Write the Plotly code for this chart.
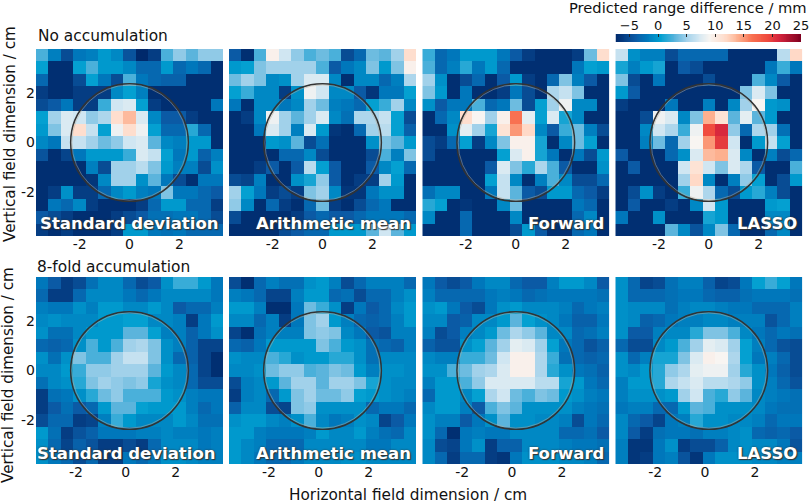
import plotly.graph_objects as go

# cell centres in cm, rows listed top to bottom
x_cm = [-3.5, -3, -2.5, -2, -1.5, -1, -0.5, 0, 0.5, 1, 1.5, 2, 2.5, 3, 3.5]
y_cm = [3.5, 3, 2.5, 2, 1.5, 1, 0.5, 0, -0.5, -1, -1.5, -2, -2.5, -3, -3.5]

methods = ["Standard deviation", "Arithmetic mean", "Forward", "LASSO"]
row_titles = ["No accumulation", "8-fold accumulation"]
tick_vals = [-2, 0, 2]
tick_text = ["-2", "0", "2"]
cbar_ticks = [-5, 0, 5, 10, 15, 20, 25]
field_radius = 2.36

std_single = [
    [2.5, -1.5, -5, -2, -1.5, 0, -1, -4.5, -7.4, -6, 2.5, 4.5, 3, 4.5, 4.5],
    [0.5, -7, -7, 0.5, 2.5, 0, 0, -1, -3, -3, 0, -3, -2, -3, -7],
    [-3, -7, -7, -5, 0.5, -2, -5, 2.5, -2, -3, -3.5, -3.5, -7, -7, -7],
    [-6, -7, -7, -6, -6, -6, -1, 0.5, -1.5, -7, -7, -7, -7, -7, -7],
    [-5, -4, -2, -6, -6, 2, 7, 7.5, 0.5, -6, -7, -7, -7, -7, -2],
    [0.5, 5, 7.5, 7, 4.5, 5.5, 11.5, 13.5, 7.5, -1, -4, -4, -6, -7, -7],
    [0, 4, 7.5, 11.5, 6.5, 0.5, 8.5, 11.5, 8.5, 0.5, -3, -3, 1.5, -3, -7],
    [-1, -2, 6.5, 6.5, 5, 3.5, 4.5, 7, 7.5, 3, -1, -1.5, 0, 0, -7],
    [-4.5, -7, -5.5, -2, 0, 0, 0, 2, 7.5, 6.5, 0.5, -2, 0, -3.5, -1.5],
    [-7, -7, -7, -7, -1.5, -5, 5, 5, 6, 4, 0, -1.5, -1.5, -5, -0.5],
    [-7, -7, -7, -7, -6.5, -1, 5, 5, -0.5, 3, -2, -5, -7, -2, -2],
    [-7, -6, -0.5, -6, -6, -3, -1, 0, -1.5, -2, 4, -2, -2, -3, -4],
    [-7, -2, -3, -1, -6, -7, -7, -7, -6, -3, 0, 0, -3, -3, -6],
    [-4, -5, -6, -7, -7, -7, -6, -5, -4, -2.5, -2.5, -2, -2, -3, -5],
    [-6, -7, -6, -7, -7, -7, -6, 0, 0, -2, -2.5, -2, -3, -3, -3],
]
mean_single = [
    [-4, -7, 2.5, 9.5, 7, 4.5, 2.5, 3.5, 2.5, -5, -3, 3.5, 3, 5, 11.5],
    [0, 0.5, 4, 5, 5, 5, 5, 2.5, -4, -2, -1, 4, 0, 4, 9.5],
    [3.5, 5, 4, -1, -0.5, 5, 7.5, 7.5, -1, -7, -1, -1, -3, -1.5, 5.5],
    [0.5, 2, -1, -1, -6, -0.5, 8.5, 7, -1, -1, -4, -6.5, -2, -2, 0.5],
    [-2, -7, -1, -1, -2, -1, 5, 3.5, -1.5, -2, -3, 0.5, 2, 5, -1],
    [-7, -6, -1, 8.5, 5, 3, 5, 7.5, -1, -2.5, 5.5, 5.5, 6.5, 0.5, -5],
    [-7, -7, -2, 7.5, 5, -1.5, 7.5, 0, -6.5, -7, -3, 5, 6, 0.5, -3.5],
    [-7, -7, -7, 0, -0.5, 3, -5, -2.5, -7, -7, -7, -0.5, 4, 3, 0],
    [-7, -7, -7, -7, -3, -3, -1, -5, -7, -7, -7, -5, 2.5, -1.5, 4],
    [-7, -7, -6, -4, -7, -4, 6, 0.5, -4, -7, -7, -4, -1, 0.5, -3],
    [-5, -5.5, -1.5, -7, -7, -0.5, 1, 4.5, -4, -7, -6, -6, 5, 0, -7],
    [5, 0.5, -2, -6, -5, -6, 4, 5, -1, -6.5, -6.5, -2, -0.5, -0.5, -7],
    [4.5, -1, -7, -3, -6, -7, -3, 3.5, -6, -7, -5, -3, -2, -7, -7],
    [-5, -7, -7, -7, -7, -6, -4, -3, -4, -4, -3, -2, -2, -2, -3],
    [-7, -7, -7, -7, -5, -4, -3, -3, 0, 0, 0, 3, 7, 3, 0],
]
forward_single = [
    [2, -3, -2, 0, 0, 0, -2, -4, -6, -7, -7, -7, -6, 3.5, 11.5],
    [2.5, -3, -1.5, 1.5, -2, 0, -3, -7, -7, -7, -7, -7, -2, 0.5, 0],
    [5, -0.5, -7, -5, -3, -7, -4, 0, -6, -7, -3, 4, -1.5, -4, -7],
    [4, 0, -7, -2, -7, -7, -6, -2, -5, -7, 5.5, 6.5, 4, -7, -7],
    [-0.5, -4, -2, -2, 2.5, -3, -2, 3.5, -5, 0.5, 5, 8.5, -1, -1, -7],
    [-7, -3, -1, 11.5, 9, 5, 9.5, 16.5, 8, 0.5, 7.5, 1, -1, -7, -7],
    [-7, -7, -0.5, 8, 5, 1, 11, 15, 12, -1, -4, 2, 3.5, -1.5, -5],
    [-5, -6, -3, 0.5, -6, -1, 4, 9.5, 9.5, 1, -7, -1, 3.5, 0.5, -7],
    [-5, -7, -7, -7, -7, -7, 0.5, 7.5, 9.5, 1, -2, -7, -2, -5, 0],
    [-7, -7, -7, -7, -7, -4, 7.5, 4, 1.5, 5.5, 2.5, -4, -7, -7, -0.5],
    [-7, -7, -7, -7, -7, 0.5, 6.5, -1, -7, -1.5, 2.5, -1, -5, -5, -3],
    [-2.5, -1, -1, -7, -7, -2, 6.5, 3, -4, -5, 0, 0, -3, -4, -6],
    [1.5, 0.5, -7, -6.5, -7, -7, -1, 3.5, -7, -7, -7, -7, -2, -3, -7],
    [-1, -7, -7, -3, -7, -7, -7, -1, -7, -7, -7, -7, -3, -1, -7],
    [-7, -7, -7, -3, -7, -7, -7, -5, 0, -4, -7, -7, -3, -2, -7],
]
lasso_single = [
    [6.5, -0.5, -1.5, -1.5, -5, -3, -3, -3, -3, -7, -7, -7, -7, 6, 12],
    [1, -1.5, 0, 1, -7, -4, -5, -7, -7, -7, -7, -7, -2, 2, -2],
    [4, -5, -7, -2, -7, -7, -7, -5, -7, -7, -7, 2.5, -1, -4, -7],
    [0, -4, -7, -7, -7, -7, -7, -7, -7, -7, 4, 7.5, 4, -7, -7],
    [-6, -7, -7, -7, -2, -7, -7, -1.5, -7, -1, 5, 9, 0, -0.5, -7],
    [-7, -7, -5, 8.5, 7.5, -1, 4, 14, 11, 3, 8, 3, 0, -7, -7],
    [-7, -7, -1, 7, 5.5, 2, 8.5, 19, 21, 4.5, -3, 5.5, 5, -2.5, -7],
    [-7, -7, -1.5, 3.5, -3, 5, 9, 15, 20, 7, -7, 0, 6.5, 0.5, -7],
    [-4, -7, -7, -7, -3, -0.5, 7.5, 13.5, 14, 7.5, -1, -7, -1.5, -5, -3],
    [-7, -4, -7, -7, -7, 7, 11, 7, 4, 7.5, 5.5, -4, -7, -7, 2.5],
    [-7, -7, -7, -7, -7, 5, 12, -1, -7, -1.5, 4.5, 0.5, -7, -5, 0],
    [-7, -5, -0.5, -6, -7, 2, 8.5, 5.5, -3, -5, 0, 1.5, -1.5, -5, -7],
    [-7, -4, -7, -7, -6, -7, -1, 7, 0, -7, -7, -7, 0, 0.5, -7],
    [-2, -7, -7, -0.5, -7, -7, -7, 1, 0, -7, -7, -7, -1, -1, -7],
    [-7, -7, -7, -7, 3, -1, -4.5, -1, 4, -3, -7, -7, -3, -1, -7],
]
std_accum = [
    [-2, -4, -6, -5, -2.5, -1, -1, -3, -5, -4, -0.5, 2, 2, 0, -2],
    [-3, -6, -6, -3, -1, -1, -1, -2, -3, -2, -1, -1, -1, -1, -2],
    [-1.5, -2, -2, -0.5, -1.5, 0, 0, -1, -1, 0, -1, -4, -3, -3, -1.5],
    [-1, -0.5, -1, -1, -1, 0, 0, 0.5, 0.5, -1, -1, -1.5, -6, -2, 0],
    [-0.5, -2.5, -2.5, -1, 0, 0, 0, 3, 3, 0.5, -1.5, -1.5, -3.5, -2, -0.5],
    [-3, -3.5, -3, -0.5, 2.5, 0, 2.5, 5, 5.5, 4, -0.5, -1.5, -3.5, -5.5, -5.5],
    [-0.5, -2.5, -0.5, 4, 2.5, 2.5, 5, 6.5, 6.5, 4, -0.5, -3, -3.5, -5.5, -7],
    [-1, -1, 0, 2, 4.5, 4.5, 5, 5, 5, 3, 0, -1, -3, -5.5, -7],
    [-2.5, -1, -0.5, 1.5, 4, 5, 4.5, 4, 4.5, 1, -0.5, -1, -3, -5, -5],
    [-6, -2.5, -2, -0.5, 1.5, 3.5, 4.5, 2.5, 2.5, 2.5, 0, -0.5, -1.5, -2, -2],
    [-6, -4, -2.5, -4, -3, 0, 3, 3, 0.5, 0, 0, 0, -1.5, -3, -2],
    [-5, -3, -3, -6, -5.5, -1.5, 2, 0, -1, -1, -1, 0, -1, -2.5, -2.5],
    [0, -2.5, -6, -4.5, -3.5, -2, -2, -2, -1.5, -1.5, -1, -1.5, -1.5, -2, -1.5],
    [-0.5, -3, -5.5, -3.5, -4.5, -6, -6, -5, -6, -3, -1, -1, -1, -2, -1.5],
    [-0.5, -2, -3, -5, -3, -6, -6, -2, -3, -2, -0.5, -0.5, -1, -1.5, -1.5],
]
mean_accum = [
    [-5, -7, -3, -1.5, -2.5, -2.5, -0.5, 0, -1.5, -5, -3, -1.5, -1.5, -1.5, -3],
    [-1.5, -2, -3, -5.5, -5.5, -1.5, 0, 0, -3, -2.5, -5, -3, -3, -1.5, -0.5],
    [0, 0, -1.5, -7, -7, -2, 3.5, 2, -0.5, -6, -2, -4, -3, -1, 0],
    [-1, -1, -3, -1.5, -6, -2, 4, 5, 0, -1.5, -3, -3.5, -3, -1.5, 0],
    [-5.5, -7, -2.5, -1.5, -1.5, -1.5, 4, 4.5, 4, -1, -2, -4, -4.5, -1.5, -1.5],
    [-3, -3.5, -2, 0, 0, 0, 0, 4, 2.5, 0, -0.5, -2.5, -3, -3.5, -1.5],
    [-0.5, -1, -1, 2.5, 1.5, -0.5, 0, 0, 1.5, 1.5, -0.5, -2.5, -1, -1, -1],
    [-1, -1, -0.5, 3.5, 4.5, 4.5, 2.5, 3, 4, 3.5, 0, -1.5, -0.5, -0.5, -1],
    [-5, -1.5, -1, 0, 3, 5, 5, 3, 5, 5, 4, 1, -0.5, -1, -1],
    [-6, -1.5, -1, -3, 0, 4, 5, 3.5, 3.5, 4.5, 0.5, 0, -0.5, -1, -1.5],
    [-3.5, -1, -1, -5, -5.5, 4, 4.5, -0.5, -0.5, -0.5, -0.5, -3, -2, -2, -3],
    [-0.5, 0, 0, -1, -1.5, -0.5, 2.5, -1, -2, -1.5, -0.5, -1, -5.5, -4, -2],
    [0, 0, -1.5, -2, -2, -2, -1.5, 0, -1, -1, 0, -1.5, -2.5, -3, -1],
    [0, -1, -1.5, -3, -3, -3, -1, -1, -1, -1, -1, -2, -2, -1, -1],
    [0, -1, -2, -3, -3, -2, -1, -1, -1, -0.5, -0.5, -1, -1, -1, -1],
]
forward_accum = [
    [-2, -4, -5, -4, -2, -1, -1, -3, -4, -4, -1.5, 0, 0, -1, -4],
    [-1.5, -3, -3, -3, -3, -2, -1.5, -2, -3, -2.5, -2, -2, -2, -2, -2.5],
    [-0.5, 0, -2, -4, -5, -2, -0.5, 0, -1, -1, -1, -1.5, -3, -2, -1.5],
    [-1, -1, -4, -3.5, -1, -1, 0, 3, 0.5, -0.5, -1, -2, -3.5, -3.5, -2],
    [-1.5, -5, -4, -1.5, -1, 0, 3.5, 5.5, 4.5, 3, -1, -1, -3, -2.5, -1.5],
    [-3.5, -4.5, -4.5, -0.5, 0.5, 3, 5, 8, 7.5, 5, 0.5, -2, -3, -4.5, -3.5],
    [-1, -1.5, -1.5, 2, 2, 3.5, 7, 9.5, 9.5, 5.5, 2, -2.5, -3, -3.5, -3],
    [-0.5, -0.5, 2.5, 3.5, 5, 5.5, 7.5, 9.5, 9.5, 5.5, 1.5, -0.5, -2, -2.5, -3.5],
    [-1.5, 0, 0, 2.5, 4.5, 7.5, 7.5, 7.5, 7.5, 6, 6, 1, 0, -2, -3],
    [-3, 0, 0, -1, 0.5, 5.5, 7, 3.5, 2.5, 4, 3.5, 0, -0.5, -1.5, -2],
    [-1, 0, 0, -1.5, -4, 2.5, 4, 3, -0.5, -0.5, -0.5, -0.5, -1.5, -2, -2.5],
    [-0.5, -1.5, -1.5, -4, -2, -0.5, 3, -0.5, -0.5, -1, -1, -1.5, -5, -2, -3],
    [-0.5, -3, -7, -2, -1.5, -2, -2, -1, -1, -1, -1, -3, -3, -2.5, -4],
    [-1, -5, -5.5, -2, -0.5, -6, -3.5, -3.5, -1, -1, -1, -1.5, -2, -2, -2.5],
    [-1, -3, -6, -3, -3, -6, -6.5, -2, -0.5, -0.5, -0.5, -1, -1, -1.5, -3],
]
lasso_accum = [
    [-0.5, -3, -5.5, -5, -2.5, -1.5, -1.5, -3.5, -5.5, -5, -2, 0.5, 2, 0.5, -2],
    [-0.5, -3, -3, -3, -2.5, -2, -2, -3, -3.5, -3.5, -2.5, -2, -2, -2, -2.5],
    [-0.5, -1, -1, -1, -2.5, -1.5, -1, -1, -1.5, -2, -2, -3, -3, -3, -1.5],
    [-0.5, -1, -3.5, -3, -2, -1.5, -1.5, -1, -1, -1.5, -1.5, -1.5, -4.5, -3, -1.5],
    [-0.5, -4, -4, -1.5, -1, -1, 1.5, 4, 4, 2.5, -1, -2, -3, -2, -2.5],
    [-3, -5, -5, -1, 0, 2.5, 5, 8, 7.5, 5, 0.5, -1.5, -3, -4.5, -5],
    [-0.5, -3, -1.5, 1, 1, 4, 7.5, 9.5, 9, 5.5, 0.5, -2, -1.5, -3, -5],
    [-0.5, -1, 0, 1.5, 4.5, 5.5, 8, 8.5, 8.5, 5, 1.5, -0.5, -2, -3.5, -5],
    [-1.5, 0, 0, 1.5, 5.5, 6.5, 7.5, 6, 6, 5.5, 4.5, -0.5, -1.5, -3, -4.5],
    [-1.5, -0.5, -0.5, -0.5, 0, 5, 7, 2.5, 1.5, 4.5, 3, -1, -1.5, -2, -2.5],
    [-2, -1.5, -1.5, -3, -3, 0, 3, 2.5, -0.5, -0.5, -0.5, -1, -2, -2.5, -2.5],
    [-1, -3, -4, -5.5, -2, -1.5, 1.5, -0.5, -0.5, -1, -1, -1.5, -3, -2, -2],
    [-1, -4, -6, -2.5, -2, -2, -2.5, -1.5, -1.5, -1, -0.5, -3, -3.5, -3, -4],
    [-1.5, -6.5, -6.5, -2, -0.5, -6, -5, -5, -3.5, -1, -0.5, -1, -1, -2, -4.5],
    [-1.5, -6.5, -6, -2, -1.5, -4.5, -6.5, -2, -0.5, -0.5, -0.5, -1, -1, -1.5, -1.5],
]
panels = [
    [std_single, mean_single, forward_single, lasso_single],
    [std_accum, mean_accum, forward_accum, lasso_accum],
]

W, H = 809, 504
FONT = "DejaVu Sans"
TEXT = "#111111"
panel_size = 187
col_left = [36, 229, 422.3, 615.3]
row_top = [49, 277]
ylabel_pos = [(10, 134), (8, 375)]
title_pos = [(36, 36.5), (35, 266.5)]
label_y = [223, 453.5]
label_pad = [[3, 3.5, 3.5, 3.5], [6, 3.5, 3.5, 3.5]]
# the lower row's tick labels sit a little left of the true positions in the original
tick_shift = [0, -0.15]
vmin, vmax = -7.4, 25

colorscale = [
    [0.0, "#00296b"], [0.105, "#0b5aa5"], [0.167, "#0077bb"], [0.24, "#009fd0"],
    [0.32, "#5ab4dc"], [0.38, "#9fd0ea"], [0.444, "#d0e6f2"], [0.506, "#f8f5f2"],
    [0.6, "#ffd9c6"], [0.66, "#fdb08f"], [0.74, "#f86f4f"], [0.82, "#ef4a3e"],
    [0.88, "#d7263d"], [1.0, "#7f0020"],
]

fig = go.Figure()
layout = {}
shapes = []
annotations = []
n = 0
for r in range(2):
    for c in range(4):
        n += 1
        suffix = "" if n == 1 else str(n)
        fig.add_trace(go.Heatmap(
            x=x_cm, y=y_cm, z=panels[r][c], showscale=False,
            colorscale=colorscale, zmin=vmin, zmax=vmax,
            xaxis="x" + suffix, yaxis="y" + suffix,
        ))
        layout["xaxis" + suffix] = dict(
            domain=[col_left[c] / W, (col_left[c] + panel_size) / W],
            range=[-3.75, 3.75], anchor="y" + suffix,
            tickvals=[v + tick_shift[r] for v in tick_vals], ticktext=tick_text,
            ticks="", showgrid=False, zeroline=False, showline=False,
            ticklabelstandoff=-2,
            tickfont=dict(family=FONT, size=14, color=TEXT),
        )
        layout["yaxis" + suffix] = dict(
            domain=[1 - (row_top[r] + panel_size) / H, 1 - row_top[r] / H],
            range=[-3.75, 3.75], anchor="x" + suffix,
            tickvals=tick_vals, ticktext=tick_text if c == 0 else [""] * 3,
            ticks="", showgrid=False, zeroline=False, showline=False,
            tickfont=dict(family=FONT, size=14, color=TEXT),
        )
        # beam field outline, dark ring with a thin pale one just inside
        for rad, col, lw in [(field_radius, "#333333", 1.5), (field_radius - 0.05, "#b9ad98", 0.5)]:
            shapes.append(dict(
                type="circle", xref="x" + suffix, yref="y" + suffix,
                x0=-rad, x1=rad, y0=-rad, y1=rad, line=dict(color=col, width=lw),
            ))
        annotations.append(dict(
            text=methods[c], xref="paper", yref="paper", showarrow=False,
            x=(col_left[c] + panel_size - label_pad[r][c]) / W, xanchor="right",
            y=1 - label_y[r] / H, yanchor="middle",
            font=dict(family=FONT, size=16.5, color="white", weight="bold",
                      shadow="1px 1px 1px #333, 0 0 2px #333"),
        ))

# horizontal colour bar: its own small axes so the labels can sit on top
steps = [vmin + i * (vmax - vmin) / 200 for i in range(201)]
fig.add_trace(go.Heatmap(
    x=steps, y=[0], z=[steps], showscale=False,
    colorscale=colorscale, zmin=vmin, zmax=vmax,
    xaxis="x9", yaxis="y9",
))
layout["xaxis9"] = dict(
    domain=[615.7 / W, 801 / W], range=[vmin, vmax], anchor="y9", side="top",
    tickvals=cbar_ticks, ticks="inside", ticklen=3, tickcolor="#222222", tickwidth=1,
    showgrid=False, zeroline=False, showline=False, ticklabeloverflow="allow",
    tickfont=dict(family=FONT, size=13, color=TEXT),
)
layout["yaxis9"] = dict(
    domain=[1 - 42.3 / H, 1 - 34 / H], anchor="x9", range=[-0.5, 0.5],
    showticklabels=False, ticks="", showgrid=False, zeroline=False, showline=False,
)
annotations.append(dict(
    text="Predicted range difference / mm", xref="paper", yref="paper", showarrow=False,
    x=688 / W, xanchor="center", y=1 - 8 / H, yanchor="middle",
    font=dict(family=FONT, size=14.7, color=TEXT),
))

for r, title in enumerate(row_titles):
    annotations.append(dict(
        text=title, xref="paper", yref="paper", showarrow=False,
        x=title_pos[r][0] / W, xanchor="left", y=1 - title_pos[r][1] / H, yanchor="middle",
        font=dict(family=FONT, size=15.4, color=TEXT),
    ))
    annotations.append(dict(
        text="Vertical field dimension / cm", xref="paper", yref="paper", showarrow=False,
        x=ylabel_pos[r][0] / W, xanchor="center", y=1 - ylabel_pos[r][1] / H, yanchor="middle",
        textangle=-90, font=dict(family=FONT, size=15.2, color=TEXT),
    ))
annotations.append(dict(
    text="Horizontal field dimension / cm", xref="paper", yref="paper", showarrow=False,
    x=407.5 / W, xanchor="center", y=1 - 495 / H, yanchor="middle",
    font=dict(family=FONT, size=15.3, color=TEXT),
))

fig.update_layout(
    width=W, height=H,
    margin=dict(l=0, r=0, t=0, b=0, autoexpand=False),
    paper_bgcolor="white", plot_bgcolor="white",
    showlegend=False,
    shapes=shapes, annotations=annotations,
    **layout,
)

fig.write_html("out.html", config=dict(displayModeBar=False),
               post_script="document.body.style.margin='0';")
